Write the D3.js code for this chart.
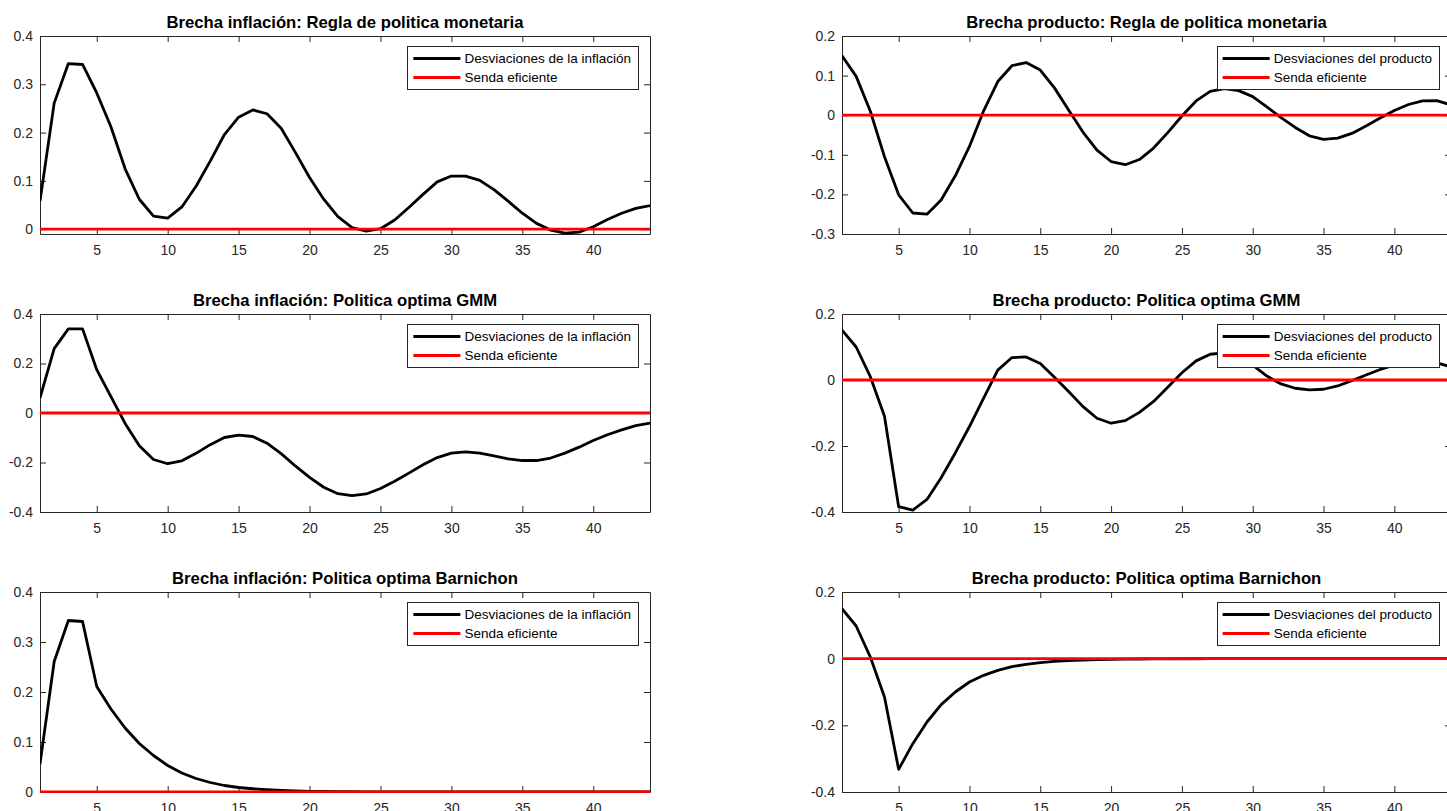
<!DOCTYPE html>
<html>
<head>
<meta charset="utf-8">
<script src="https://cdn.jsdelivr.net/npm/d3@7/dist/d3.min.js"></script>
<style>
  html, body { margin: 0; padding: 0; background: #fff; overflow: hidden; }
  svg { display: block; font-family: "Liberation Sans", Arial, Helvetica, sans-serif; }
  .tick text { fill: #262626; }
</style>
</head>
<body>
<svg id="fig" width="1447" height="811"></svg>
<script>
// Horizon (quarters) shared by every panel
const periods = [1,2,3,4,5,6,7,8,9,10,11,12,13,14,15,16,17,18,19,20,21,22,
                 23,24,25,26,27,28,29,30,31,32,33,34,35,36,37,38,39,40,41,42,43,44];
const xTicks = [5, 10, 15, 20, 25, 30, 35, 40];

// Inflation gap responses
const inflRegla = [0.058, 0.261, 0.343, 0.341, 0.282, 0.212, 0.125, 0.062, 0.027, 0.023,
                   0.046, 0.089, 0.141, 0.196, 0.232, 0.247, 0.239, 0.209, 0.159, 0.107,
                   0.062, 0.026, 0.003, -0.004, 0.001, 0.019, 0.045, 0.072, 0.098, 0.110,
                   0.110, 0.101, 0.082, 0.058, 0.033, 0.012, -0.002, -0.008, -0.006, 0.005,
                   0.020, 0.033, 0.043, 0.049];
const inflGMM = [0.061, 0.260, 0.340, 0.340, 0.175, 0.066, -0.042, -0.132, -0.188, -0.205,
                 -0.193, -0.163, -0.128, -0.099, -0.089, -0.095, -0.122, -0.164, -0.214, -0.260,
                 -0.300, -0.326, -0.334, -0.327, -0.305, -0.276, -0.243, -0.209, -0.180, -0.162,
                 -0.157, -0.162, -0.173, -0.185, -0.192, -0.192, -0.182, -0.162, -0.138, -0.111,
                 -0.088, -0.068, -0.051, -0.041];
const inflBarnichon = [0.056, 0.261, 0.343, 0.341, 0.211, 0.166, 0.128, 0.097, 0.073, 0.053,
                       0.038, 0.027, 0.019, 0.013, 0.009, 0.0065, 0.0045, 0.003, 0.002, 0.0014,
                       0.001, 0.0007, 0.0005, 0.0003, 0.0002, 0.0001, 0.0001, 0, 0, 0,
                       0, 0, 0, 0, 0, 0, 0, 0, 0, 0,
                       0, 0, 0, 0];

// Output gap responses
const outRegla = [0.150, 0.098, 0.010, -0.105, -0.201, -0.247, -0.250, -0.214, -0.153, -0.079,
                  0.011, 0.085, 0.125, 0.133, 0.114, 0.069, 0.013, -0.042, -0.088, -0.117,
                  -0.125, -0.112, -0.083, -0.044, -0.002, 0.036, 0.060, 0.067, 0.062, 0.047,
                  0.021, -0.006, -0.031, -0.052, -0.061, -0.058, -0.046, -0.027, -0.007, 0.012,
                  0.027, 0.036, 0.037, 0.026];
const outGMM = [0.151, 0.100, 0.010, -0.110, -0.384, -0.394, -0.362, -0.296, -0.221, -0.141,
                -0.055, 0.030, 0.068, 0.070, 0.050, 0.008, -0.035, -0.080, -0.116, -0.131,
                -0.123, -0.098, -0.065, -0.022, 0.022, 0.058, 0.078, 0.082, 0.074, 0.045,
                0.012, -0.012, -0.025, -0.030, -0.028, -0.018, -0.002, 0.015, 0.032, 0.045,
                0.054, 0.058, 0.052, 0.040];
const outBarnichon = [0.150, 0.098, 0.005, -0.115, -0.332, -0.255, -0.190, -0.138, -0.100, -0.070,
                      -0.050, -0.035, -0.024, -0.017, -0.012, -0.008, -0.006, -0.004, -0.003, -0.002,
                      -0.0014, -0.001, -0.0007, -0.0005, -0.0003, -0.0002, -0.0001, 0, 0, 0,
                      0, 0, 0, 0, 0, 0, 0, 0, 0, 0,
                      0, 0, 0, 0];

// Efficient path: zero gap at every horizon
const sendaEficiente = periods.map(() => 0);

// Axis limits and y ticks
const yLimInflRegla = [-0.01, 0.4],  yTicksInflRegla = [0, 0.1, 0.2, 0.3, 0.4];
const yLimInflGMM   = [-0.4, 0.4],   yTicksInflGMM   = [-0.4, -0.2, 0, 0.2, 0.4];
const yLimInflBarn  = [0, 0.4],      yTicksInflBarn  = [0, 0.1, 0.2, 0.3, 0.4];
const yLimOutRegla  = [-0.3, 0.2],   yTicksOutRegla  = [-0.3, -0.2, -0.1, 0, 0.1, 0.2];
const yLimOutGMM    = [-0.4, 0.2],   yTicksOutGMM    = [-0.4, -0.2, 0, 0.2];
const yLimOutBarn   = [-0.4, 0.2],   yTicksOutBarn   = [-0.4, -0.2, 0, 0.2];

const titles = [
  "Brecha inflación: Regla de politica monetaria",
  "Brecha producto: Regla de politica monetaria",
  "Brecha inflación: Politica optima GMM",
  "Brecha producto: Politica optima GMM",
  "Brecha inflación: Politica optima Barnichon",
  "Brecha producto: Politica optima Barnichon"
];
const legendInfl = ["Desviaciones de la inflación", "Senda eficiente"];
const legendOut  = ["Desviaciones del producto", "Senda eficiente"];

// Figure layout
const cols = [{ x0: 40, x1: 650 }, { x0: 842, x1: 1451 }];
const rows = [{ y0: 36, y1: 234 }, { y0: 314, y1: 512 }, { y0: 592, y1: 792 }];

const panels = [
  { row: 0, col: 0, title: titles[0], values: inflRegla,     yLim: yLimInflRegla, yTicks: yTicksInflRegla, legend: legendInfl },
  { row: 0, col: 1, title: titles[1], values: outRegla,      yLim: yLimOutRegla,  yTicks: yTicksOutRegla,  legend: legendOut },
  { row: 1, col: 0, title: titles[2], values: inflGMM,       yLim: yLimInflGMM,   yTicks: yTicksInflGMM,   legend: legendInfl },
  { row: 1, col: 1, title: titles[3], values: outGMM,        yLim: yLimOutGMM,    yTicks: yTicksOutGMM,    legend: legendOut },
  { row: 2, col: 0, title: titles[4], values: inflBarnichon, yLim: yLimInflBarn,  yTicks: yTicksInflBarn,  legend: legendInfl },
  { row: 2, col: 1, title: titles[5], values: outBarnichon,  yLim: yLimOutBarn,   yTicks: yTicksOutBarn,   legend: legendOut }
];

const AXIS_COLOR = "#262626";
const TICK_LEN = 6;
const fmt = v => String(+v.toFixed(2));

const svg = d3.select("#fig");
const defs = svg.append("defs");

panels.forEach((p, i) => {
  const c = cols[p.col], r = rows[p.row];
  const x = d3.scaleLinear().domain([periods[0], periods[periods.length - 1]]).range([c.x0, c.x1]);
  const y = d3.scaleLinear().domain(p.yLim).range([r.y1, r.y0]);

  const g = svg.append("g").attr("class", "panel");

  defs.append("clipPath").attr("id", "clip" + i)
    .append("rect")
    .attr("x", c.x0).attr("y", r.y0 - 1)
    .attr("width", c.x1 - c.x0).attr("height", r.y1 - r.y0 + 2);

  // Axes box with inward ticks on all four sides
  const styleAxis = sel => {
    sel.selectAll("path.domain").attr("stroke", AXIS_COLOR).attr("stroke-width", 1);
    sel.selectAll(".tick line").attr("stroke", AXIS_COLOR).attr("stroke-width", 1);
  };
  g.append("g").attr("transform", `translate(0,${r.y1})`)
    .call(d3.axisBottom(x).tickValues(xTicks).tickSizeInner(-TICK_LEN).tickSizeOuter(0)
      .tickPadding(11).tickFormat(d3.format("d")))
    .call(styleAxis)
    .call(s => s.selectAll("text").attr("font-size", 14));
  g.append("g").attr("transform", `translate(0,${r.y0})`)
    .call(d3.axisTop(x).tickValues(xTicks).tickSizeInner(-TICK_LEN).tickSizeOuter(0).tickFormat(""))
    .call(styleAxis);
  g.append("g").attr("transform", `translate(${c.x0},0)`)
    .call(d3.axisLeft(y).tickValues(p.yTicks).tickSizeInner(-TICK_LEN).tickSizeOuter(0)
      .tickPadding(7).tickFormat(fmt))
    .call(styleAxis)
    .call(s => s.selectAll("text").attr("font-size", 14));
  g.append("g").attr("transform", `translate(${c.x1},0)`)
    .call(d3.axisRight(y).tickValues(p.yTicks).tickSizeInner(-TICK_LEN).tickSizeOuter(0).tickFormat(""))
    .call(styleAxis);

  // Response path and efficient path
  const line = d3.line().x((d, k) => x(periods[k])).y(d => y(d));
  const plot = g.append("g").attr("clip-path", `url(#clip${i})`);
  plot.append("path").datum(p.values)
    .attr("d", line).attr("fill", "none")
    .attr("stroke", "#000").attr("stroke-width", 2.8).attr("stroke-linejoin", "round");
  plot.append("path").datum(sendaEficiente)
    .attr("d", line).attr("fill", "none")
    .attr("stroke", "#ff0000").attr("stroke-width", 2.8);

  // Title
  g.append("text")
    .attr("x", (c.x0 + c.x1) / 2).attr("y", r.y0 - 8)
    .attr("text-anchor", "middle").attr("font-weight", "bold").attr("font-size", 16.7)
    .attr("fill", "#000")
    .text(p.title);

  // Legend (top-right, white box)
  const lg = g.append("g");
  const box = lg.append("rect").attr("fill", "#fff").attr("stroke", AXIS_COLOR).attr("stroke-width", 1);
  const entries = [{ label: p.legend[0], color: "#000" }, { label: p.legend[1], color: "#ff0000" }];
  const texts = entries.map((e, k) => {
    const yy = r.y0 + 22.5 + k * 19;
    const ln = lg.append("line").attr("y1", yy).attr("y2", yy)
      .attr("stroke", e.color).attr("stroke-width", 2.8);
    const t = lg.append("text").attr("y", yy + 4.5).attr("font-size", 13.5).attr("fill", "#000").text(e.label);
    return { ln, t };
  });
  const textW = d3.max(texts, d => d.t.node().getComputedTextLength());
  const boxW = 6 + 47 + 4 + textW + 7;
  const bx = c.x1 - 12 - boxW;
  box.attr("x", Math.round(bx) + 0.5).attr("y", r.y0 + 10.5).attr("width", Math.round(boxW)).attr("height", 43);
  texts.forEach(({ ln, t }) => {
    ln.attr("x1", bx + 6).attr("x2", bx + 53);
    t.attr("x", bx + 57);
  });
});
</script>
</body>
</html>
